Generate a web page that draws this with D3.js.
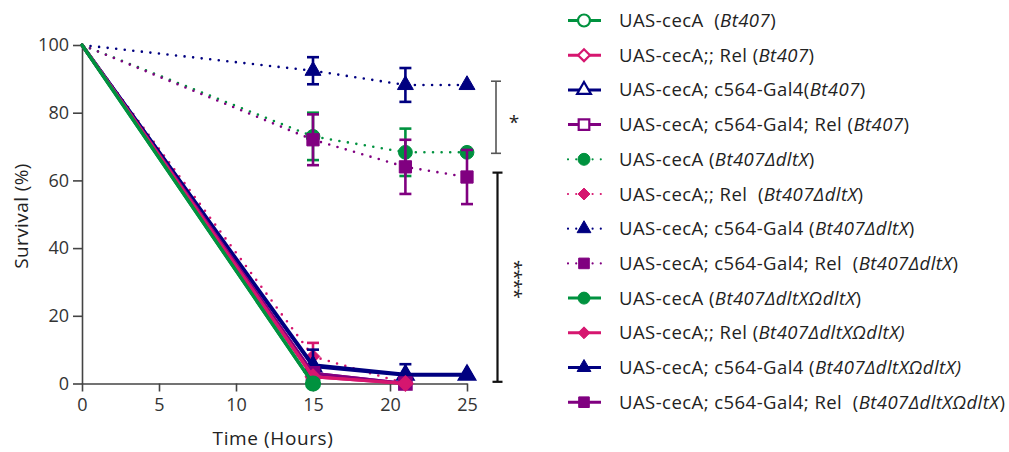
<!DOCTYPE html>
<html>
<head>
<meta charset="utf-8">
<script src="https://cdn.jsdelivr.net/npm/d3@7"></script>
<style>
  body { margin: 0; background: #fff; }
  text { font-family: "Open Sans", sans-serif; fill: #222; white-space: pre; }
</style>
</head>
<body>
<div id="graph"></div>
<script>
const W = 1009, H = 452;

// time points (hours)
const hours = [0, 15, 21, 25];
const xTicks = [0, 5, 10, 15, 20, 25];
const yTicks = [0, 20, 40, 60, 80, 100];

// legend labels: [plain part, italic part, trailing]
const labels = [
  ["UAS-cecA  (", "Bt407", ")"],
  ["UAS-cecA;; Rel (", "Bt407", ")"],
  ["UAS-cecA; c564-Gal4(", "Bt407", ")"],
  ["UAS-cecA; c564-Gal4; Rel (", "Bt407", ")"],
  ["UAS-cecA (", "Bt407ΔdltX", ")"],
  ["UAS-cecA;; Rel  (", "Bt407ΔdltX", ")"],
  ["UAS-cecA; c564-Gal4 (", "Bt407ΔdltX", ")"],
  ["UAS-cecA; c564-Gal4; Rel  (", "Bt407ΔdltX", ")"],
  ["UAS-cecA (", "Bt407ΔdltXΩdltX", ")"],
  ["UAS-cecA;; Rel (", "Bt407ΔdltXΩdltX)", ""],
  ["UAS-cecA; c564-Gal4 (", "Bt407ΔdltXΩdltX)", ""],
  ["UAS-cecA; c564-Gal4; Rel  (", "Bt407ΔdltXΩdltX", ")"]
];

// survival (%) at hours; null = no point
const bt407Green   = [100, 0, null, null];
const bt407Pink    = [100, 2, 0, null];
const bt407Blue    = [100, 5, 2.5, 2.5];
const bt407Purple  = [100, 3, 0, null];
const dltGreen     = [100, 73, 68.3, 68.3];
const dltPink      = [100, 8, 0, null];
const dltBlue      = [100, 92.4, 88.2, 88.2];
const dltPurple    = [100, 72, 64, 61];
const omegaGreen   = [100, 0, null, null];
const omegaPink    = [100, 2, 0, null];
const omegaBlue    = [100, 5.5, 2.7, 2.7];
const omegaPurple  = [100, 3, 0, null];

// SEM
const dltGreenErr  = [0, 7, 7, 0];
const dltPinkErr   = [0, 4, 0, 0];
const dltBlueErr   = [0, 4, 5, 0];
const dltPurpleErr = [0, 7.5, 8, 8];
const omegaBlueErr = [0, 4.5, 3, 0];
const noErr = [0, 0, 0, 0];

const green = "#00923f", pink = "#d6166f", blue = "#000080", purple = "#800080";

const series = [
  { v: bt407Green,  e: noErr, c: green,  shape: d3.symbolCircle,   open: true,  dot: false },
  { v: bt407Pink,   e: noErr, c: pink,   shape: d3.symbolDiamond2, open: true,  dot: false },
  { v: bt407Blue,   e: noErr, c: blue,   shape: d3.symbolTriangle, open: true,  dot: false },
  { v: bt407Purple, e: noErr, c: purple, shape: d3.symbolSquare,   open: true,  dot: false },
  { v: dltGreen,    e: dltGreenErr,  c: green,  shape: d3.symbolCircle,   open: false, dot: true },
  { v: dltPink,     e: dltPinkErr,   c: pink,   shape: d3.symbolDiamond2, open: false, dot: true },
  { v: dltBlue,     e: dltBlueErr,   c: blue,   shape: d3.symbolTriangle, open: false, dot: true },
  { v: dltPurple,   e: dltPurpleErr, c: purple, shape: d3.symbolSquare,   open: false, dot: true },
  { v: omegaGreen,  e: noErr, c: green,  shape: d3.symbolCircle,   open: false, dot: false },
  { v: omegaPink,   e: noErr, c: pink,   shape: d3.symbolDiamond2, open: false, dot: false },
  { v: omegaBlue,   e: omegaBlueErr, c: blue,   shape: d3.symbolTriangle, open: false, dot: false },
  { v: omegaPurple, e: noErr, c: purple, shape: d3.symbolSquare,   open: false, dot: false }
];

const svg = d3.select("#graph").append("svg")
  .attr("width", W).attr("height", H);

const x = d3.scaleLinear().domain([0, 25]).range([82, 467]);
const y = d3.scaleLinear().domain([0, 100]).range([383.5, 45]);

// axes
const xAxis = svg.append("g").attr("transform", "translate(0," + y(0) + ")")
  .call(d3.axisBottom(x).tickValues(xTicks).tickSize(8).tickPadding(7).tickSizeOuter(0));
const yAxis = svg.append("g").attr("transform", "translate(" + x(0) + ",0)")
  .call(d3.axisLeft(y).tickValues(yTicks).tickSize(9).tickPadding(4).tickSizeOuter(0));
[xAxis, yAxis].forEach(a => {
  a.select(".domain").attr("stroke", "#444").attr("stroke-width", 1.6);
  a.selectAll(".tick line").attr("stroke", "#444").attr("stroke-width", 1.6);
  a.selectAll(".tick text").style("font-size", "18px").style("fill", "#333")
    .style("font-family", "Open Sans, sans-serif");
});

svg.append("text").attr("x", 273).attr("y", 445).attr("text-anchor", "middle")
  .style("font-size", "19px").style("letter-spacing", "0.6px").text("Time (Hours)");
svg.append("text").attr("transform", "translate(28,216) rotate(-90)")
  .attr("text-anchor", "middle").style("font-size", "19px").style("letter-spacing", "0.4px")
  .text("Survival (%)");

const line = d3.line()
  .defined(d => d.v != null)
  .x(d => x(d.t)).y(d => y(d.v));

function symSize(shape, legend) {
  const k = legend ? 0.75 : 1;
  if (shape === d3.symbolCircle) return 150 * k;
  if (shape === d3.symbolTriangle) return 110 * k;
  if (shape === d3.symbolSquare) return 150 * k;
  return 120 * k;
}

const plot = svg.append("g");
// draw so first legend items end on top
const drawOrder = [6, 4, 7, 5, 2, 10, 3, 11, 1, 9, 0, 8];
drawOrder.forEach(i => {
  const s = series[i];
  const pts = hours.map((t, j) => ({ t: t, v: s.v[j], e: s.e[j] }));
  const g = plot.append("g");
  g.append("path").datum(pts)
    .attr("d", line)
    .attr("fill", "none")
    .attr("stroke", s.c)
    .attr("stroke-width", s.dot ? 2.6 : 3.2)
    .attr("stroke-linecap", "round")
    .attr("stroke-dasharray", s.dot ? "0,8.6" : null);
  const valid = pts.filter(d => d.v != null && d.t > 0);
  valid.filter(d => d.e > 0).forEach(d => {
    const eg = g.append("g").attr("stroke", s.c).attr("stroke-width", 2.6);
    eg.append("line").attr("x1", x(d.t)).attr("x2", x(d.t))
      .attr("y1", y(d.v - d.e)).attr("y2", y(d.v + d.e));
    [d.v - d.e, d.v + d.e].forEach(v => {
      eg.append("line").attr("x1", x(d.t) - 6).attr("x2", x(d.t) + 6)
        .attr("y1", y(v)).attr("y2", y(v));
    });
  });
  g.selectAll("path.m").data(valid).enter().append("path")
    .attr("class", "m")
    .attr("transform", d => "translate(" + x(d.t) + "," + y(d.v) + ")")
    .attr("d", d3.symbol().type(s.shape).size(symSize(s.shape, false)))
    .attr("fill", s.open ? "#fff" : s.c)
    .attr("stroke", s.c)
    .attr("stroke-width", s.open ? 2.4 : 1);
});

// significance brackets
function bracket(top, bottom, bx, color, sw) {
  const b = svg.append("g").attr("stroke", color).attr("stroke-width", sw);
  b.append("line").attr("x1", bx).attr("x2", bx).attr("y1", y(top)).attr("y2", y(bottom));
  [top, bottom].forEach(v => b.append("line")
    .attr("x1", bx - 5).attr("x2", bx + 5).attr("y1", y(v)).attr("y2", y(v)));
}
bracket(89.3, 68, 496, "#555", 1.6);
bracket(62.3, 0.5, 497.5, "#111", 2.2);
svg.append("text").attr("x", 514).attr("y", 129).attr("text-anchor", "middle")
  .style("font-size", "19px").text("*");
svg.append("text").attr("transform", "translate(508,279) rotate(90)")
  .attr("text-anchor", "middle").style("font-size", "19px").style("letter-spacing", "-1px")
  .text("****");

// legend
const legend = svg.append("g");
labels.forEach((lab, i) => {
  const s = series[i];
  const ly = 20.5 + i * 34.7;
  const row = legend.append("g").attr("transform", "translate(0," + ly + ")");
  row.append("line").attr("x1", 568).attr("x2", 601).attr("y1", 0).attr("y2", 0)
    .attr("stroke", s.c).attr("stroke-width", s.dot ? 2.2 : 3)
    .attr("stroke-linecap", s.dot ? "round" : "butt")
    .attr("stroke-dasharray", s.dot ? "0,8.2" : null);
  row.append("path").attr("transform", "translate(584,0)")
    .attr("d", d3.symbol().type(s.shape).size(symSize(s.shape, true)))
    .attr("fill", s.open ? "#fff" : s.c)
    .attr("stroke", s.c).attr("stroke-width", s.open ? 2.2 : 1);
  const t = row.append("text").attr("x", 619).attr("y", 6.5)
    .style("font-size", "18.5px").style("letter-spacing", "0.45px");
  t.append("tspan").text(lab[0]);
  t.append("tspan").style("font-style", "italic").text(lab[1]);
  t.append("tspan").text(lab[2]);
});
</script>
</body>
</html>
